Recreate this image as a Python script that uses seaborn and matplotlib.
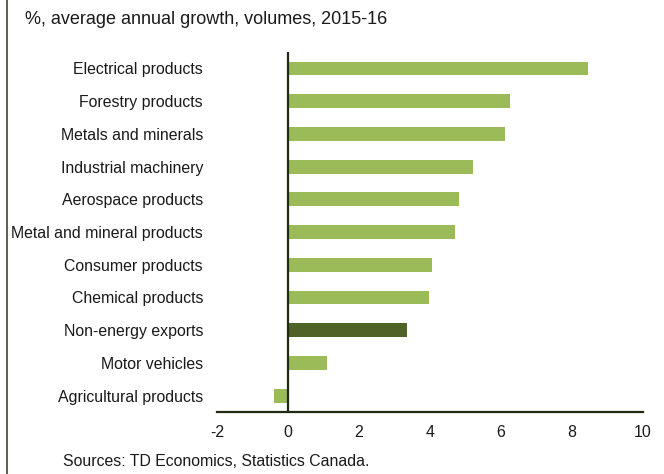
import matplotlib
matplotlib.use('Agg')
import matplotlib.pyplot as plt
import seaborn as sns
import pandas as pd

# ── Datos ──────────────────────────────────────────────────────────
categorias = ['Electrical products', 'Forestry products', 'Metals and minerals',
              'Industrial machinery', 'Aerospace products',
              'Metal and mineral products', 'Consumer products',
              'Chemical products', 'Non-energy exports', 'Motor vehicles',
              'Agricultural products']
valores = [8.45, 6.25, 6.1, 5.2, 4.83, 4.7, 4.06, 3.98, 3.36, 1.1, -0.4]
xticks = [-2, 0, 2, 4, 6, 8, 10]

VERDE = '#9bbb59'
OSCURO = '#4f6228'
LINEA = '#1e2a12'
colores = {c: (OSCURO if c == 'Non-energy exports' else VERDE) for c in categorias}

df = pd.DataFrame({'cat': categorias, 'val': valores})

# ── Estilo ─────────────────────────────────────────────────────────
sns.set_style('white')
plt.rcParams['font.family'] = ['Liberation Sans', 'DejaVu Sans']

fig = plt.figure(figsize=(6.64, 4.74), dpi=100)
ax = fig.add_axes([0.3268, 0.1308, 0.6415, 0.7592])

sns.barplot(data=df, x='val', y='cat', hue='cat', palette=colores,
            legend=False, width=0.42, orient='h', ax=ax, saturation=1,
            linewidth=0)

ax.set_xlim(-2, 10)
ax.set_ylim(10.5, -0.5)
ax.set_xticks(xticks)
ax.set_xticklabels([str(t) for t in xticks])
ax.set_xlabel('')
ax.set_ylabel('')
ax.tick_params(axis='both', length=0, labelsize=11.4, colors='#1a1a1a')
ax.tick_params(axis='y', pad=10)
ax.tick_params(axis='x', pad=9)

for lado in ['top', 'right', 'left']:
    ax.spines[lado].set_visible(False)
ax.spines['bottom'].set_color(LINEA)
ax.spines['bottom'].set_linewidth(1.6)
ax.axvline(0, color=LINEA, linewidth=1.6)

# Textos
fig.text(25 / 664, 1 - 20 / 474, '%, average annual growth, volumes, 2015-16',
         fontsize=13, va='center', ha='left', color='#1a1a1a')
fig.text(63 / 664, 1 - 461 / 474, 'Sources: TD Economics, Statistics Canada.',
         fontsize=11.4, va='center', ha='left', color='#1a1a1a')

# Borde izquierdo
fig.add_artist(plt.Line2D([7 / 664, 7 / 664], [0, 1], color='#3a4a20',
                          linewidth=1.2, transform=fig.transFigure))

plt.savefig('out.png', dpi=100)
